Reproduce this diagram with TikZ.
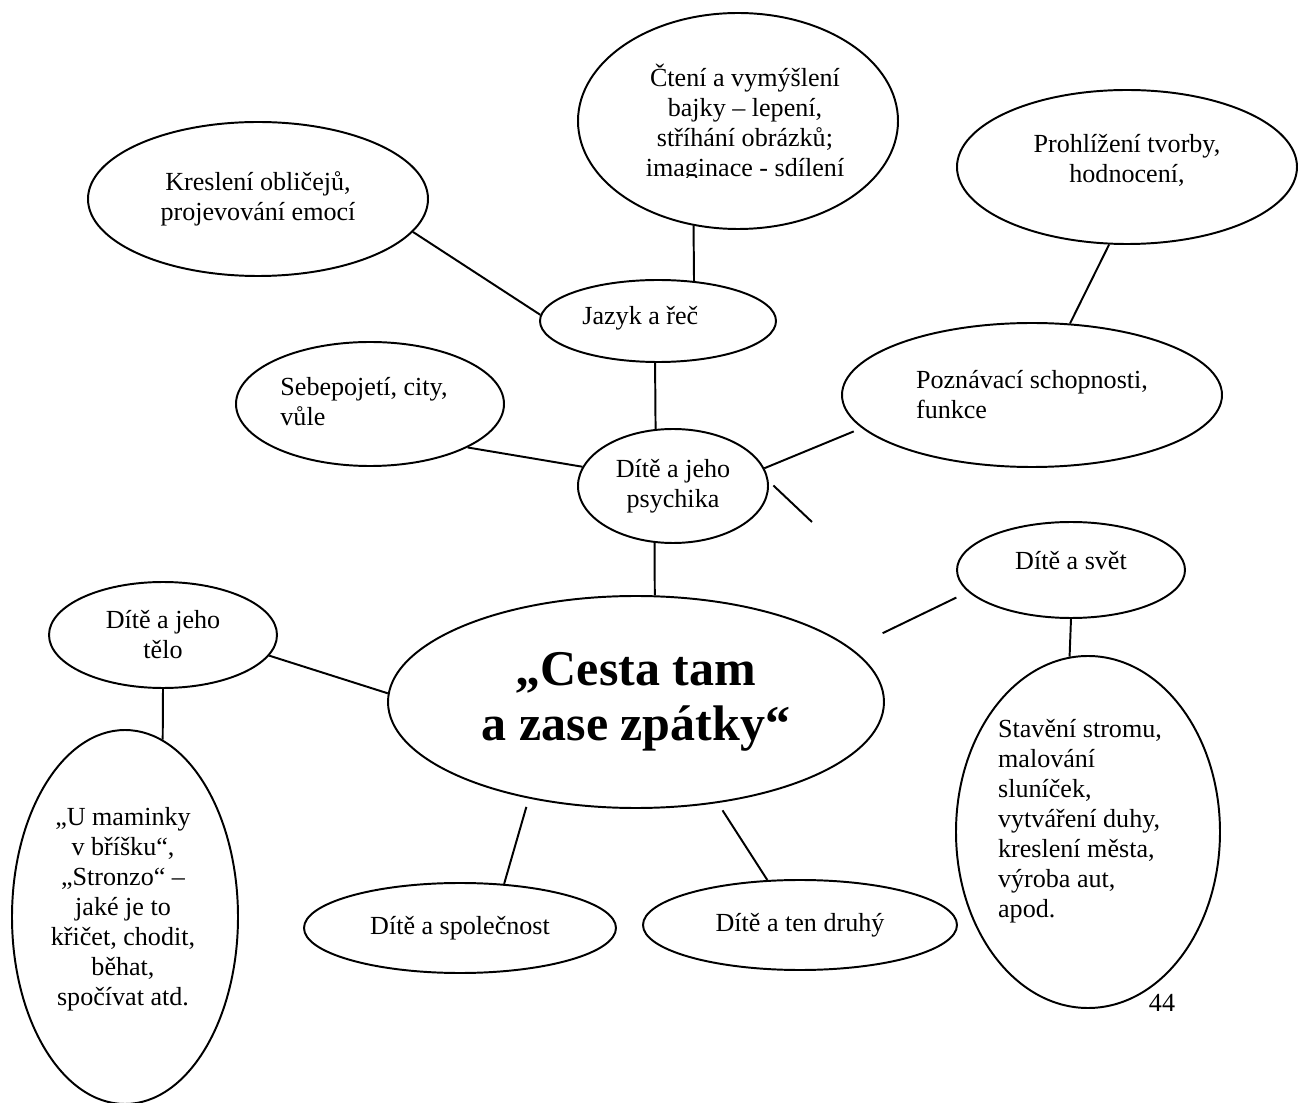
\documentclass[tikz,border=0pt]{standalone}
\usepackage{fontspec}
\setmainfont{Liberation Serif}
\usetikzlibrary{shapes.geometric}

\tikzset{
  bubble/.style 2 args={draw, ellipse, line width=0.9pt, inner sep=0pt,
    minimum width=#1*0.46pt, minimum height=#2*0.46pt,
    align=center, font=\fontsize{12}{13.8}\selectfont},
  btext/.style={inner sep=0pt, font=\fontsize{12}{13.8}\selectfont},
  spoj/.style={line width=0.9pt},
}

\begin{document}
\begin{tikzpicture}[x=0.46pt, y=-0.46pt]
  \useasboundingbox (0,0) rectangle (1311,1103);
  % hlavni tema
  \node[bubble={496}{212}, font=\fontsize{23}{25.3}\selectfont\bfseries] (cesta) at (636,702) {„Cesta tam\\a zase zpátky“};
  % horni vetev
  \node[bubble={190}{114}] (psychika) at (673,486) {Dítě a jeho\\psychika};
  \node[bubble={236}{82}] (jazyk) at (658,321) {};
  \node[btext, anchor=base west] (jazyk-t) at (582,325) {Jazyk a řeč};
  \node[bubble={320}{216}] (cteni) at (738,121) {};
  \begin{scope}
    \clip (560,0) rectangle (930,178);
    \node[btext, align=center] (cteni-t) at (745,123) {Čtení a vymýšlení\\bajky – lepení,\\stříhání obrázků;\\imaginace - sdílení};
  \end{scope}
  \node[bubble={340}{154}] (kresleni) at (258,199) {Kreslení obličejů,\\projevování emocí};
  \node[bubble={340}{154}] (prohlizeni) at (1127,167) {};
  \node[btext, align=center] (prohlizeni-t) at (1127,160) {Prohlížení tvorby,\\hodnocení,};
  \node[bubble={380}{144}, align=left] (poznavaci) at (1032,395) {Poznávací schopnosti,\\funkce};
  \node[bubble={268}{124}] (sebepojeti) at (370,404) {};
  \node[btext, align=left, anchor=west] (sebepojeti-t) at (280,402) {Sebepojetí, city,\\vůle};
  \coordinate (volny) at (812,522);
  % prava vetev
  \node[bubble={228}{96}] (svet) at (1071,570) {};
  \node[btext] (svet-t) at (1071,561) {Dítě a svět};
  \node[bubble={264}{352}] (staveni) at (1088,832) {};
  \node[btext, align=left] (staveni-t) at (1080,821) {Stavění stromu,\\malování\\sluníček,\\vytváření duhy,\\kreslení města,\\výroba aut,\\apod.};
  % leva vetev
  \node[bubble={228}{106}] (telo) at (163,635) {Dítě a jeho\\tělo};
  \node[bubble={226}{374}] (maminky) at (125,917) {};
  \node[btext, align=center] (maminky-t) at (123,909) {„U maminky\\v bříšku“,\\„Stronzo“ –\\jaké je to\\křičet, chodit,\\běhat,\\spočívat atd.};
  % spodni vetev
  \node[bubble={312}{90}] (spolecnost) at (460,928) {Dítě a společnost};
  \node[bubble={314}{90}] (druhy) at (800,925) {Dítě a ten druhý};
  \node[btext] (strana) at (1162,1003) {44};

  \draw[spoj] (cesta.80) -- (psychika.252);
  \draw[spoj] (psychika.107) -- (jazyk.266);
  \draw[spoj] (jazyk.48) -- (cteni.247);
  \draw[spoj] (kresleni.-12) -- (jazyk.177);
  \draw[spoj] (sebepojeti.-24) -- (psychika.168);
  \draw[spoj, shorten >=4pt] (psychika.11) -- (poznavaci.191);
  \draw[spoj, shorten <=3pt] (psychika.3) -- (volny);
  \draw[spoj] (poznavaci.62) -- (prohlizeni.257);
  \draw[spoj, shorten <=16pt, shorten >=6pt] (cesta.14) -- (svet.192);
  \draw[spoj] (svet.270) -- (staveni.96);
  \draw[spoj] (cesta.178) -- (telo.-11);
  \draw[spoj] (telo.270) -- (maminky.78);
  \draw[spoj, shorten <=4pt] (cesta.222) -- (spolecnost.45);
  \draw[spoj, shorten <=4pt] (cesta.309) -- (druhy.126);
\end{tikzpicture}
\end{document}
